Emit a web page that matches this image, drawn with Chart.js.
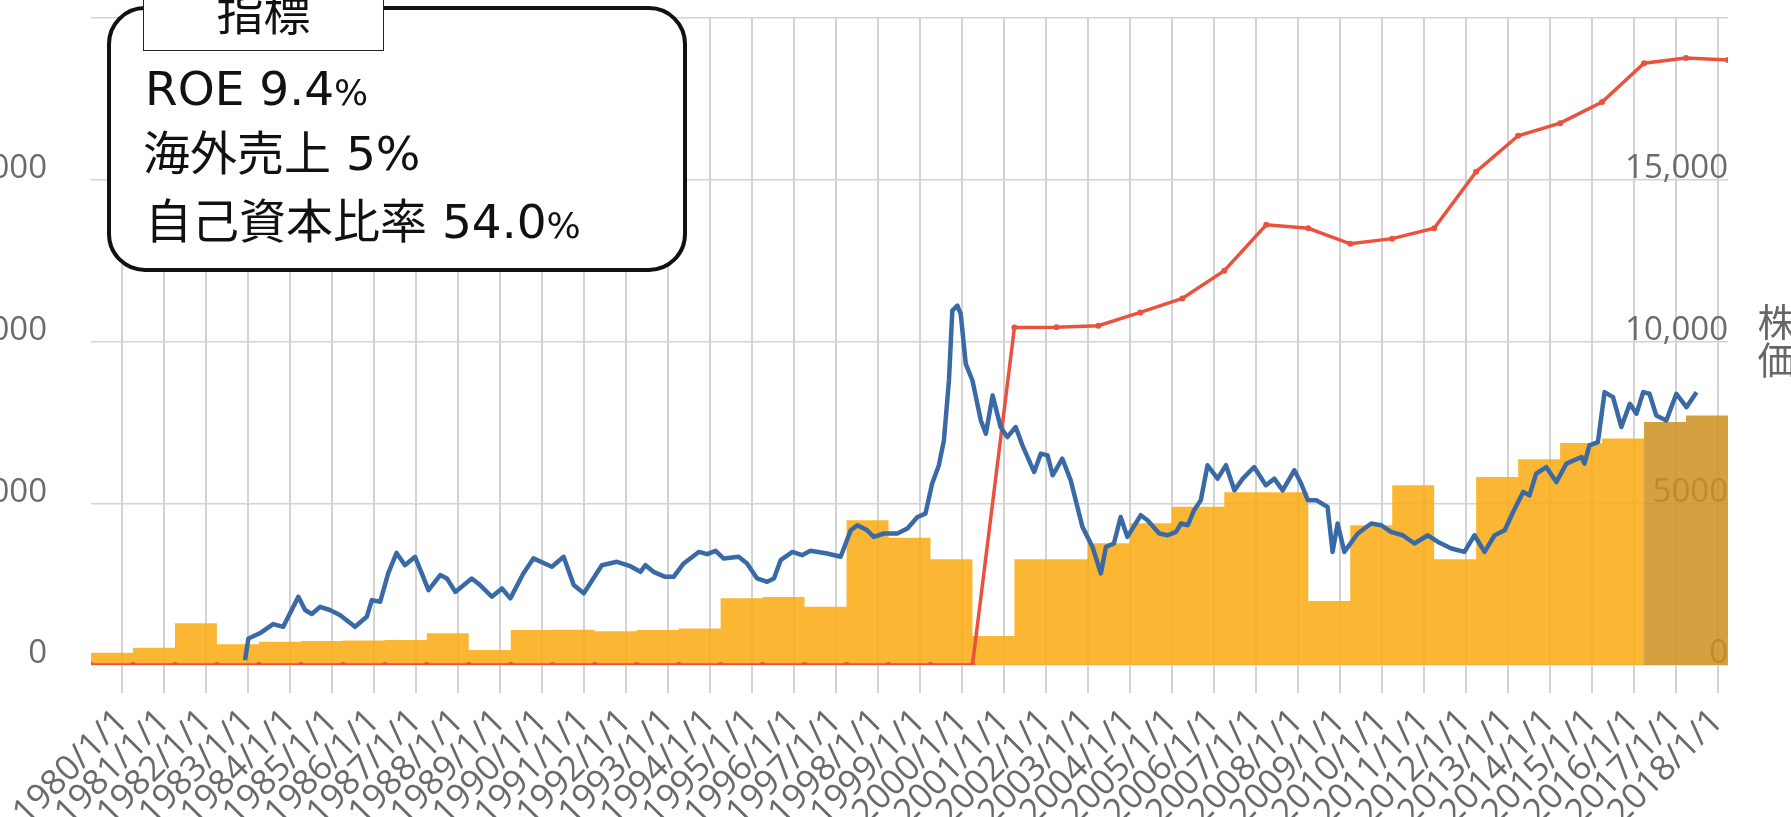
<!DOCTYPE html>
<html>
<head>
<meta charset="utf-8">
<script src="https://cdn.jsdelivr.net/npm/chart.js@4"></script>
<style>
html,body{margin:0;padding:0;background:#fff;overflow:hidden;width:1791px;height:817px;}
#wrap{position:relative;width:1791px;height:817px;overflow:hidden;background:#fff;}
#c{position:absolute;left:0;top:0;}
.box{position:absolute;left:107px;top:6px;width:580px;height:266px;box-sizing:border-box;border:4px solid #111;border-radius:38px;background:#fff;}
.tab{position:absolute;left:143px;top:-12px;width:241px;height:63px;box-sizing:border-box;border:1.5px solid #222;background:#fff;}
.txt{position:absolute;font-family:"DejaVu Sans","Noto Sans CJK JP";font-size:47px;line-height:48px;color:#111;white-space:nowrap;}
.cjk{font-family:"Noto Sans CJK JP";}
.sm{font-size:36px;}
.ytitle{position:absolute;left:1756px;top:303px;writing-mode:vertical-rl;font-family:"Noto Sans CJK JP";font-size:38px;line-height:40px;color:#666;}
</style>
</head>
<body>
<div id="wrap">
<canvas id="c" width="1791" height="817"></canvas>
<div class="box"></div>
<div class="tab"></div>
<div class="txt cjk" style="left:143px;top:-14px;width:241px;text-align:center;">指標</div>
<div class="txt" style="left:145px;top:65px;">ROE 9.4<span class="sm">%</span></div>
<div class="txt" style="left:143px;top:130px;">海外売上 5%</div>
<div class="txt" style="left:145px;top:198px;">自己資本比率 54.0<span class="sm">%</span></div>
<div class="ytitle">株価</div>
</div>
<script>
// ---------- data ----------
const tickYears = [1980,1981,1982,1983,1984,1985,1986,1987,1988,1989,1990,1991,1992,1993,1994,1995,1996,1997,1998,1999,2000,2001,2002,2003,2004,2005,2006,2007,2008,2009,2010,2011,2012,2013,2014,2015,2016,2017,2018];
const tickLabels = ['1980/1/1','1981/1/1','1982/1/1','1983/1/1','1984/1/1','1985/1/1','1986/1/1','1987/1/1','1988/1/1','1989/1/1','1990/1/1','1991/1/1','1992/1/1','1993/1/1','1994/1/1','1995/1/1','1996/1/1','1997/1/1','1998/1/1','1999/1/1','2000/1/1','2001/1/1','2002/1/1','2003/1/1','2004/1/1','2005/1/1','2006/1/1','2007/1/1','2008/1/1','2009/1/1','2010/1/1','2011/1/1','2012/1/1','2013/1/1','2014/1/1','2015/1/1','2016/1/1','2017/1/1','2018/1/1'];

const yTickValues = [0, 5000, 10000, 15000, 20000];
const leftTickLabels = ['0', '5000', '10,000', '15,000', ''];
const rightTickLabels = ['0', '5000', '10,000', '15,000', ''];

// fiscal-period bars (start of each period), and the end of the last period
const barStart = [1979.25,1980.25,1981.25,1982.25,1983.25,1984.25,1985.25,1986.25,1987.25,1988.25,1989.25,1990.25,1991.25,1992.25,1993.25,1994.25,1995.25,1996.25,1997.25,1998.25,1999.25,2000.25,2001.25,2002.25,2003.0,2004.0,2005.0,2006.25,2007.25,2008.25,2009.25,2010.25,2011.25,2012.25,2013.25,2014.25,2015.25,2016.25,2017.25];
const barEnd = 2018.25;
const barValues = [380,535,1290,640,720,740,755,770,980,465,1080,1090,1040,1080,1130,2060,2100,1800,4475,3935,3270,895,3270,3270,3765,4380,4890,5340,5340,1975,4320,5555,3270,5810,6360,6860,7000,7510,7715];
const darkFrom = 37; // last periods drawn darker

// red annual series
const redDates = [1979.25,1980.25,1981.25,1982.25,1983.25,1984.25,1985.25,1986.25,1987.25,1988.25,1989.25,1990.25,1991.25,1992.25,1993.25,1994.25,1995.25,1996.25,1997.25,1998.25,1999.25,2000.25,2001.25,2002.25,2003.25,2004.25,2005.25,2006.25,2007.25,2008.25,2009.25,2010.25,2011.25,2012.25,2013.25,2014.25,2015.25,2016.25,2017.25,2018.25];
const redValues = [0,0,0,0,0,0,0,0,0,0,0,0,0,0,0,0,0,0,0,0,0,0,10430,10440,10490,10900,11330,12190,13610,13500,13020,13180,13500,15250,16360,16750,17400,18600,18760,18700];

// stock price (blue)
const priceDates = [1982.92,1983.00,1983.27,1983.59,1983.83,1984.19,1984.35,1984.51,1984.71,1984.94,1985.18,1985.54,1985.82,1985.94,1986.14,1986.33,1986.53,1986.73,1986.97,1987.13,1987.29,1987.57,1987.73,1987.93,1988.32,1988.52,1988.80,1989.04,1989.24,1989.55,1989.79,1990.23,1990.51,1990.75,1990.99,1991.42,1991.78,1992.10,1992.34,1992.46,1992.65,1992.93,1993.13,1993.37,1993.73,1993.93,1994.13,1994.32,1994.68,1994.88,1995.12,1995.36,1995.52,1995.68,1995.96,1996.19,1996.39,1996.79,1997.11,1997.35,1997.51,1997.74,1997.90,1998.14,1998.46,1998.70,1998.94,1999.13,1999.29,1999.45,1999.57,1999.69,1999.77,1999.89,1999.97,2000.09,2000.25,2000.45,2000.57,2000.73,2000.92,2001.08,2001.28,2001.44,2001.72,2001.88,2002.04,2002.16,2002.39,2002.59,2002.87,2003.11,2003.31,2003.43,2003.62,2003.78,2003.94,2004.26,2004.42,2004.70,2004.90,2005.10,2005.22,2005.38,2005.53,2005.69,2005.85,2006.09,2006.29,2006.49,2006.69,2006.96,2007.24,2007.44,2007.64,2007.92,2008.08,2008.24,2008.44,2008.71,2008.83,2008.95,2009.11,2009.43,2009.75,2009.99,2010.22,2010.50,2010.78,2011.10,2011.34,2011.66,2011.97,2012.21,2012.45,2012.69,2012.93,2013.13,2013.37,2013.52,2013.68,2013.92,2014.16,2014.40,2014.76,2014.83,2014.95,2015.15,2015.31,2015.51,2015.71,2015.91,2016.07,2016.23,2016.38,2016.54,2016.78,2017.02,2017.26,2017.50];
const priceValues = [150,820,980,1265,1180,2110,1700,1575,1800,1700,1545,1180,1490,2005,1955,2830,3465,3085,3345,2830,2315,2780,2675,2260,2675,2470,2110,2365,2060,2830,3295,3035,3345,2470,2215,3085,3190,3055,2880,3085,2880,2725,2725,3140,3495,3425,3530,3295,3345,3140,2675,2570,2675,3240,3495,3395,3530,3445,3345,4165,4320,4165,3960,4065,4065,4220,4575,4680,5610,6175,6945,8795,10955,11110,10855,9310,8795,7560,7150,8335,7355,7045,7355,6790,5965,6535,6480,5865,6380,5710,4270,3650,2830,3650,3755,4575,3960,4630,4475,4065,4010,4115,4375,4320,4785,5095,6175,5760,6175,5400,5760,6120,5555,5760,5400,6020,5610,5095,5095,4885,3495,4375,3495,4065,4375,4320,4115,4010,3755,4010,3805,3600,3495,4010,3495,4010,4165,4730,5350,5245,5915,6120,5655,6225,6430,6225,6790,6890,8435,8280,7355,8075,7770,8435,8385,7715,7560,8385,7970,8435];

// ---------- build datasets ----------
const nP = Math.min(priceDates.length, priceValues.length);
const pricePts = [];
for (let i = 0; i < nP; i++) pricePts.push({x: priceDates[i], y: priceValues[i]});
const redPts = redDates.map((x, i) => ({x, y: redValues[i]}));

const barMain = [], barDark = [];
for (let i = 0; i < barValues.length; i++) {
  const p = {x: barStart[i], y: barValues[i]};
  if (i < darkFrom) barMain.push(p); else barDark.push(p);
}
barMain.push({x: barStart[darkFrom], y: barValues[darkFrom - 1]});
barDark.push({x: barEnd, y: barValues[barValues.length - 1]});

const yFont = {family: 'Open Sans', size: 33};
const xFont = {family: 'Open Sans', size: 35};
const gridCol = '#d3d3d3';
const labelCol = '#6a6a6a';

new Chart(document.getElementById('c'), {
  type: 'line',
  data: {
    datasets: [
      {data: pricePts, yAxisID: 'y1', borderColor: '#3a6aa6', borderWidth: 4.5, pointRadius: 0, tension: 0, borderJoinStyle: 'round', fill: false},
      {data: redPts, yAxisID: 'y', borderColor: '#e9533e', borderWidth: 3.5, pointRadius: 3, pointBackgroundColor: '#e9533e', pointBorderWidth: 0, tension: 0, fill: false},
      {data: barMain, yAxisID: 'y', stepped: true, fill: 'origin', backgroundColor: 'rgba(250,170,17,0.85)', borderColor: 'transparent', borderWidth: 0, pointRadius: 0},
      {data: barDark, yAxisID: 'y', stepped: true, fill: 'origin', backgroundColor: 'rgba(204,143,30,0.85)', borderColor: 'transparent', borderWidth: 0, pointRadius: 0}
    ]
  },
  options: {
    responsive: false,
    animation: false,
    devicePixelRatio: 1,
    layout: {padding: {top: 18, left: 0, right: 0, bottom: 0}},
    plugins: {legend: {display: false}, tooltip: {enabled: false}},
    scales: {
      x: {
        type: 'linear', min: barStart[0], max: barEnd,
        afterBuildTicks: s => { s.ticks = tickYears.map(v => ({value: v})); },
        afterFit: s => { s.height = 152; s.paddingLeft = 0; s.paddingRight = 0; },
        grid: {color: gridCol, lineWidth: 2, tickLength: 28, tickColor: gridCol, tickWidth: 2},
        border: {display: false},
        ticks: {autoSkip: false, minRotation: 45, maxRotation: 45, padding: 8, color: labelCol, font: xFont,
          callback: v => tickLabels[tickYears.indexOf(v)]}
      },
      y: {
        position: 'left', min: 0, max: 20000,
        afterBuildTicks: s => { s.ticks = yTickValues.map(v => ({value: v})); },
        afterFit: s => { s.width = 91; s.paddingTop = 0; s.paddingBottom = 0; },
        grid: {color: gridCol, lineWidth: 1.5, drawTicks: false},
        border: {display: false},
        ticks: {padding: 44, labelOffset: -11, color: labelCol, font: yFont,
          callback: v => leftTickLabels[yTickValues.indexOf(v)]}
      },
      y1: {
        position: 'right', min: 0, max: 20000,
        afterBuildTicks: s => { s.ticks = yTickValues.map(v => ({value: v})); },
        afterFit: s => { s.width = 63; s.paddingTop = 0; s.paddingBottom = 0; },
        grid: {display: false, drawTicks: false},
        border: {display: false},
        ticks: {mirror: true, padding: 0, labelOffset: -11, color: labelCol, font: yFont,
          callback: v => rightTickLabels[yTickValues.indexOf(v)]}
      }
    }
  }
});
</script>
</body>
</html>
